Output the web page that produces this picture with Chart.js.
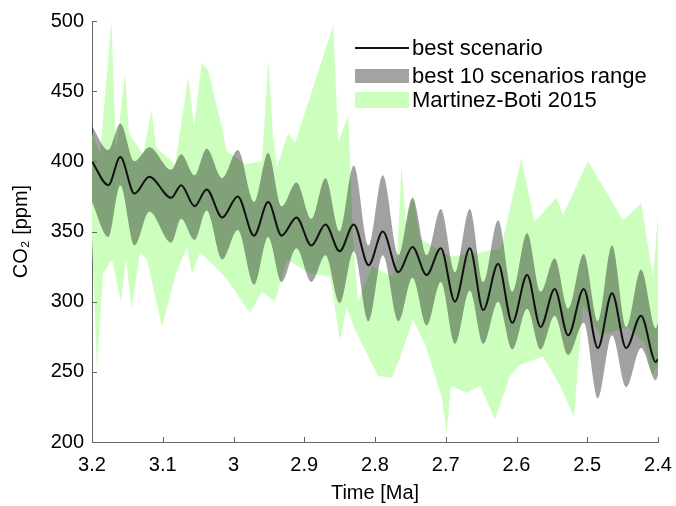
<!DOCTYPE html>
<html>
<head>
<meta charset="utf-8">
<script src="https://cdn.jsdelivr.net/npm/chart.js@4.4.1/dist/chart.umd.min.js"></script>
<style>
  html, body { margin: 0; padding: 0; background: #fff; }
  #wrap { position: relative; width: 676px; height: 506px; }
  .leg { position: absolute; left: 355px; font: 22px "Liberation Sans", Arial, sans-serif; color: #000; white-space: nowrap; }
  .leg span.sw { position: absolute; left: 0; width: 54px; }
  .leg span.txt { position: absolute; left: 57px; top: 50%; transform: translateY(-50%); }
</style>
</head>
<body>
<div id="wrap">
  <canvas id="co2_chart" width="676" height="506"></canvas>
  <div class="leg" style="top:38px;height:20px;"><span class="sw" style="top:9px;height:2px;background:#111;"></span><span class="txt">best scenario</span></div>
  <div class="leg" style="top:66px;height:20px;"><span class="sw" style="top:3px;height:14px;background:#a3a3a3;"></span><span class="txt">best 10 scenarios range</span></div>
  <div class="leg" style="top:90px;height:20px;"><span class="sw" style="top:2px;height:16px;background:#ccffbe;"></span><span class="txt">Martinez-Boti 2015</span></div>
</div>
<script>
// best scenario: maxima / minima (time in Ma, CO2 in ppm)
const bestTime = [3.2, 3.177, 3.16, 3.14, 3.119, 3.088, 3.074, 3.055, 3.038, 3.016, 2.994, 2.971, 2.951, 2.932,
  2.911, 2.89, 2.87, 2.85, 2.83, 2.809, 2.789, 2.767, 2.747, 2.727, 2.707, 2.687, 2.666, 2.647, 2.626,
  2.606, 2.585, 2.566, 2.546, 2.527, 2.505, 2.485, 2.465, 2.445, 2.424, 2.403, 2.4];
const bestCO2 = [400, 383, 403, 377, 389, 374, 383, 368, 380, 360, 375, 347, 371, 347,
  360, 340, 355, 336, 355, 326, 350, 321, 339, 319, 338, 300, 338, 294, 327,
  285, 319, 282, 309, 276, 309, 267, 306, 267, 290, 257, 259];

// best 10 scenarios range (same time points as above)
const rangeHigh = [425, 408, 427, 400, 410, 394, 405, 390, 409, 388, 408, 371, 406, 368,
  385, 359, 388, 350, 397, 340, 390, 333, 374, 333, 366, 321, 366, 314, 358,
  307, 349, 307, 331, 295, 334, 286, 340, 282, 323, 281, 285];
const rangeLow = [371, 346, 383, 340, 364, 342, 359, 344, 365, 330, 351, 312, 346, 314,
  338, 314, 333, 299, 336, 286, 333, 286, 317, 283, 314, 270, 308, 270, 300,
  266, 295, 266, 290, 262, 285, 231, 276, 239, 267, 244, 248];

// Martinez-Boti 2015 envelope
const mbHighTime = [3.2, 3.1887, 3.1724, 3.1661, 3.1534, 3.1477, 3.1279, 3.1156, 3.1095, 3.0827, 3.0639,
  3.0558, 3.0449, 3.036, 3.0191, 3.0092, 2.9837, 2.9597, 2.9508, 2.9442, 2.9385, 2.923, 2.9131,
  2.8589, 2.8519, 2.8377, 2.8311, 2.824, 2.8042, 2.7746, 2.7689, 2.7625, 2.7562, 2.7463, 2.7364,
  2.694, 2.6516, 2.6219, 2.5932, 2.5744, 2.5437, 2.5343, 2.4989, 2.4495, 2.4236, 2.4071, 2.4];
const mbHigh = [420, 405, 500, 405, 463, 420, 405, 437, 410, 398, 460,
  425, 470, 465, 430, 407, 398, 400, 472, 418, 396, 420, 413,
  497, 413, 433, 345, 300, 325, 318, 330, 397, 355, 376, 345,
  332, 335, 338, 402, 357, 374, 362, 400, 358, 370, 317, 362];
const mbLowTime = [3.2, 3.1929, 3.1845, 3.1717, 3.159, 3.1519, 3.1442, 3.1322, 3.1223, 3.1011, 3.0813,
  3.0657, 3.0587, 3.0473, 3.0261, 3.0092, 2.9767, 2.9597, 2.9413, 2.9244, 2.8919, 2.8636, 2.8495,
  2.84, 2.8283, 2.7958, 2.776, 2.7647, 2.7463, 2.7293, 2.7057, 2.6986, 2.6926, 2.6704, 2.6516,
  2.6304, 2.6092, 2.5951, 2.5625, 2.5385, 2.5187, 2.506, 2.482, 2.4424, 2.4184, 2.4085, 2.4];
const mbLow = [345, 251, 320, 330, 300, 330, 295, 335, 330, 282, 320,
  339, 320, 335, 325, 316, 292, 307, 300, 330, 320, 318, 272,
  296, 280, 247, 246, 260, 287, 270, 232, 206, 240, 235, 240,
  216, 247, 255, 261, 240, 218, 298, 276, 282, 270, 248, 255];

const xTicks = [3.2, 3.1, 3.0, 2.9, 2.8, 2.7, 2.6, 2.5, 2.4];
const yTicks = [200, 250, 300, 350, 400, 450, 500];

const pts = (ts, vs) => ts.map((t, i) => ({ x: t, y: vs[i] }));
const labelFont = { family: '"Liberation Sans", Arial, sans-serif', size: 20 };

// MATLAB style tick marks pointing into the plot
const innerTicks = {
  id: 'innerTicks',
  afterDatasetsDraw(chart) {
    const { ctx, chartArea: a, scales: { x, y } } = chart;
    ctx.save();
    ctx.strokeStyle = '#666';
    ctx.lineWidth = 1;
    ctx.beginPath();
    xTicks.forEach(v => {
      const px = Math.round(x.getPixelForValue(v)) + 0.5;
      ctx.moveTo(px, a.bottom);
      ctx.lineTo(px, a.bottom - 5);
    });
    yTicks.forEach(v => {
      const py = Math.round(y.getPixelForValue(v)) + 0.5;
      ctx.moveTo(a.left, py);
      ctx.lineTo(a.left + 5, py);
    });
    ctx.stroke();
    ctx.restore();
  }
};

new Chart(document.getElementById('co2_chart'), {
  type: 'line',
  data: {
    datasets: [
      {
        label: 'best scenario',
        data: pts(bestTime, bestCO2),
        borderColor: '#111',
        borderWidth: 2,
        pointRadius: 0,
        cubicInterpolationMode: 'monotone',
        fill: false
      },
      {
        label: 'best 10 scenarios range',
        data: pts(bestTime, rangeHigh),
        borderWidth: 0,
        pointRadius: 0,
        cubicInterpolationMode: 'monotone',
        backgroundColor: 'rgba(0, 0, 0, 0.37)',
        fill: '+1'
      },
      {
        label: 'range low',
        data: pts(bestTime, rangeLow),
        borderWidth: 0,
        pointRadius: 0,
        cubicInterpolationMode: 'monotone',
        fill: false
      },
      {
        label: 'Martinez-Boti 2015',
        data: pts(mbHighTime, mbHigh),
        borderWidth: 0,
        pointRadius: 0,
        tension: 0,
        backgroundColor: 'rgb(204, 255, 190)',
        fill: '+1'
      },
      {
        label: 'mb low',
        data: pts(mbLowTime, mbLow),
        borderWidth: 0,
        pointRadius: 0,
        tension: 0,
        fill: false
      }
    ]
  },
  options: {
    responsive: false,
    animation: false,
    layout: { padding: { top: 21, right: 18, left: 0, bottom: 0 } },
    scales: {
      x: {
        type: 'linear',
        reverse: true,
        min: 2.4,
        max: 3.2,
        afterFit: s => { s.height = 64; s.paddingLeft = 0; s.paddingRight = 0; },
        afterBuildTicks: s => { s.ticks = xTicks.map(v => ({ value: v })); },
        grid: { drawOnChartArea: false, drawTicks: false },
        border: { color: '#666', width: 1 },
        ticks: {
          color: '#000',
          font: labelFont,
          padding: 11,
          maxRotation: 0,
          callback: v => String(+v.toFixed(1))
        },
        title: { display: true, text: 'Time [Ma]', color: '#000', font: labelFont, padding: { top: 0, bottom: 1 } }
      },
      y: {
        min: 200,
        max: 500,
        afterFit: s => { s.width = 92; s.paddingTop = 0; s.paddingBottom = 0; },
        afterBuildTicks: s => { s.ticks = yTicks.map(v => ({ value: v })); },
        grid: { drawOnChartArea: false, drawTicks: false },
        border: { color: '#666', width: 1 },
        ticks: { color: '#000', font: labelFont, padding: 8 },
        title: { display: true, text: 'CO₂ [ppm]', color: '#000', font: labelFont, padding: { top: 9, bottom: 0 } }
      }
    },
    plugins: {
      legend: { display: false },
      tooltip: { enabled: false }
    }
  },
  plugins: [innerTicks]
});
</script>
</body>
</html>
